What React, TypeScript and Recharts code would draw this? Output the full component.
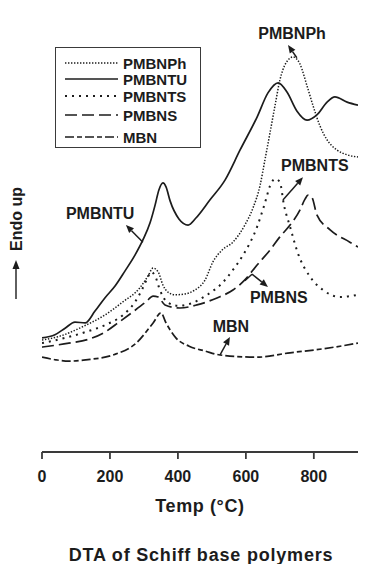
import React from 'react';
import {
  LineChart,
  Line,
  XAxis,
  YAxis,
  Legend,
  ReferenceLine,
  ReferenceDot,
} from 'recharts';

const FONT = '"Liberation Sans", Arial, Helvetica, sans-serif';
const INK = '#1c1c1c';
const FRAME = '#3a3a3a';

// temperature (°C) / DTA signal (arbitrary units, endo up)
const phTemp = [0, 53, 124, 185, 238, 288, 312, 327, 342, 356, 371, 391, 421, 450, 480, 503, 530, 562, 597, 621, 642, 656, 671, 686, 700, 718, 739, 759, 780, 798, 818, 839, 868, 898, 930];
const phDta = [25.5, 26.4, 28.7, 31.2, 34.2, 37.4, 40.1, 41.9, 41.0, 38.0, 36.4, 35.8, 36.0, 36.9, 39.2, 43.3, 46.0, 47.8, 51.7, 55.6, 60.8, 66.5, 72.7, 79.0, 84.7, 88.6, 90.0, 88.4, 83.4, 78.8, 74.3, 71.1, 68.8, 67.7, 67.2];

const tuTemp = [0, 38, 68, 97, 127, 156, 185, 215, 244, 274, 297, 318, 333, 344, 356, 365, 377, 403, 430, 453, 494, 539, 583, 633, 665, 695, 721, 750, 780, 809, 839, 862, 898, 930];
const tuDta = [26.0, 26.7, 28.2, 29.6, 29.4, 32.1, 35.1, 37.8, 41.2, 44.9, 48.3, 52.2, 56.3, 59.7, 61.3, 60.4, 57.2, 53.1, 51.7, 53.3, 57.4, 62.0, 68.8, 76.3, 81.8, 84.1, 82.0, 77.7, 75.6, 76.8, 79.7, 80.9, 79.7, 79.0];

const tsTemp = [0, 68, 127, 185, 238, 274, 297, 312, 321, 333, 347, 368, 400, 441, 480, 533, 562, 592, 633, 656, 671, 686, 700, 712, 730, 753, 789, 827, 877, 930];
const tsDta = [24.8, 26.0, 27.3, 28.9, 31.2, 34.2, 37.4, 39.9, 41.0, 40.1, 36.9, 34.2, 33.3, 33.9, 35.5, 38.7, 41.5, 44.9, 51.3, 56.7, 60.6, 62.2, 61.5, 56.3, 51.3, 45.3, 39.9, 36.9, 35.3, 35.8];

const sTemp = [0, 79, 138, 185, 227, 274, 306, 327, 342, 362, 406, 456, 515, 562, 597, 633, 671, 700, 730, 759, 774, 783, 795, 809, 848, 906, 930];
const sDta = [23.9, 24.8, 25.7, 27.3, 29.6, 32.3, 34.2, 35.5, 35.3, 33.5, 32.8, 33.5, 35.1, 36.9, 39.2, 42.6, 46.0, 49.0, 51.7, 55.1, 57.6, 58.5, 57.9, 54.0, 50.6, 47.8, 46.7];

const mbnTemp = [0, 41, 79, 129, 209, 277, 327, 350, 365, 394, 433, 480, 524, 633, 730, 827, 930];
const mbnDta = [21.6, 21.0, 20.7, 21.0, 22.1, 24.8, 29.4, 31.7, 29.4, 26.0, 24.1, 23.0, 22.1, 21.6, 22.6, 23.5, 24.8];

const tempTicks = [0, 200, 400, 600, 800];

const zip = (t: number[], v: number[]) => t.map((x, i) => ({ temp: x, dta: v[i] }));

const SERIES = [
  { name: 'PMBNPh', data: zip(phTemp, phDta), dash: '1.4 1.6', width: 1.5 },
  { name: 'PMBNTU', data: zip(tuTemp, tuDta), dash: undefined, width: 1.7 },
  { name: 'PMBNTS', data: zip(tsTemp, tsDta), dash: '2 5', width: 2 },
  { name: 'PMBNS', data: zip(sTemp, sDta), dash: '12 5', width: 1.7 },
  { name: 'MBN', data: zip(mbnTemp, mbnDta), dash: '9 3 5 3', width: 1.7 },
];

// curve labels with their pointer arrows (data coordinates)
const NOTES = [
  { text: 'PMBNPh', at: [736, 95.4], from: [750, 89.8], to: [724, 92.7] },
  { text: 'PMBNTU', at: [171, 54.4], from: [297, 47.8], to: [247, 51.7] },
  { text: 'PMBNTS', at: [803, 65.2], from: [709, 57.4], to: [768, 62.6] },
  { text: 'PMBNS', at: [697, 35.3], from: [618, 40.5], to: [665, 37.6] },
  { text: 'MBN', at: [556, 28.5], from: [524, 22.1], to: [553, 26.2] },
];

const Arrow = (p: any) => {
  const { x1, y1, x2, y2 } = p;
  const a = Math.atan2(y2 - y1, x2 - x1);
  const len = 8;
  const half = 3.4;
  const bx = x2 - len * Math.cos(a);
  const by = y2 - len * Math.sin(a);
  const nx = -Math.sin(a) * half;
  const ny = Math.cos(a) * half;
  return (
    <g>
      <line x1={x1} y1={y1} x2={bx} y2={by} stroke={INK} strokeWidth={1.5} />
      <polygon
        points={`${x2},${y2} ${bx + nx},${by + ny} ${bx - nx},${by - ny}`}
        fill={INK}
      />
    </g>
  );
};

const NoteText = (text: string) => (p: any) => (
  <text
    x={p.cx}
    y={p.cy}
    textAnchor="middle"
    dominantBaseline="central"
    fontFamily={FONT}
    fontWeight="bold"
    fontSize={16}
    fill={INK}
  >
    {text}
  </text>
);

const TempLabel = ({ viewBox }: any) => (
  <text
    x={viewBox.x + viewBox.width / 2}
    y={viewBox.y + 54}
    textAnchor="middle"
    dominantBaseline="central"
    fontFamily={FONT}
    fontWeight="bold"
    fontSize={18}
    letterSpacing={0.6}
    fill={INK}
  >
    Temp (°C)
  </text>
);

// y axis title with its upward arrow, left of the frame
const EndoUp = () => (
  <svg
    width={36}
    height={564}
    style={{ position: 'absolute', left: 0, top: 0, pointerEvents: 'none' }}
  >
    <text
      x={16}
      y={219}
      transform="rotate(-90 16 219)"
      textAnchor="middle"
      dominantBaseline="central"
      fontFamily={FONT}
      fontWeight="bold"
      fontSize={16}
      fill={INK}
    >
      Endo up
    </text>
    <line x1={16} y1={299} x2={16} y2={268} stroke={INK} strokeWidth={1.4} />
    <polygon points="16,260 12.5,269 19.5,269" fill={INK} />
  </svg>
);

// offsets of the legend rows inside the box
const ROW_Y = [15, 31, 48, 67, 89];

const LegendBox = () => (
  <div
    style={{
      width: 146,
      height: 101,
      boxSizing: 'border-box',
      border: `1.5px solid ${FRAME}`,
      background: '#fff',
    }}
  >
    <svg width={143} height={98} style={{ display: 'block' }}>
      {SERIES.map((s, i) => (
        <g key={s.name}>
          <line
            x1={9}
            x2={62}
            y1={ROW_Y[i]}
            y2={ROW_Y[i]}
            stroke={INK}
            strokeWidth={s.width}
            strokeDasharray={s.dash}
          />
          <text
            x={67}
            y={ROW_Y[i]}
            dominantBaseline="central"
            fontFamily={FONT}
            fontWeight="bold"
            fontSize={15}
            fill={INK}
          >
            {s.name}
          </text>
        </g>
      ))}
    </svg>
  </div>
);

export default function App() {
  return (
    <div style={{ position: 'absolute', left: 0, top: 0, width: 366, height: 564, background: '#fff' }}>
      <LineChart
        width={366}
        height={564}
        margin={{ top: 13, right: 8, bottom: 52, left: 42 }}
      >
        <XAxis
          dataKey="temp"
          type="number"
          domain={[0, 930]}
          ticks={tempTicks}
          allowDataOverflow
          height={60}
          stroke={FRAME}
          strokeWidth={1.8}
          tickSize={7}
          tickMargin={12}
          tick={{ fill: INK, fontSize: 16, fontWeight: 'bold', fontFamily: FONT }}
          label={<TempLabel />}
        />
        <XAxis
          xAxisId="top"
          orientation="top"
          type="number"
          domain={[0, 930]}
          height={0}
          tick={false}
          tickLine={false}
          stroke={FRAME}
          strokeWidth={1.8}
        />
        <YAxis
          type="number"
          domain={[0, 100]}
          width={0}
          tick={false}
          tickLine={false}
          stroke={FRAME}
          strokeWidth={1.8}
        />
        <YAxis
          yAxisId="right"
          orientation="right"
          type="number"
          domain={[0, 100]}
          width={0}
          tick={false}
          tickLine={false}
          stroke={FRAME}
          strokeWidth={1.8}
        />
        {SERIES.map((s) => (
          <Line
            key={s.name}
            name={s.name}
            data={s.data}
            dataKey="dta"
            type="monotone"
            stroke={INK}
            strokeWidth={s.width}
            strokeDasharray={s.dash}
            dot={false}
            activeDot={false}
            isAnimationActive={false}
          />
        ))}
        {NOTES.map((n) => (
          <ReferenceLine
            key={`a-${n.text}`}
            segment={[
              { x: n.from[0], y: n.from[1] },
              { x: n.to[0], y: n.to[1] },
            ]}
            shape={Arrow}
          />
        ))}
        <ReferenceLine
          segment={[
            { x: 597, y: 39.0 },
            { x: 618, y: 40.5 },
          ]}
          stroke={INK}
          strokeWidth={1.5}
        />
        {NOTES.map((n) => (
          <ReferenceDot
            key={`t-${n.text}`}
            x={n.at[0]}
            y={n.at[1]}
            r={0}
            shape={NoteText(n.text)}
          />
        ))}
        <Legend
          layout="vertical"
          align="center"
          verticalAlign="middle"
          wrapperStyle={{ left: 55, top: 47, width: 146, height: 101 }}
          content={() => <LegendBox />}
        />
      </LineChart>
      <EndoUp />
      <div
        style={{
          position: 'absolute',
          left: 201,
          top: 545,
          transform: 'translateX(-50%)',
          whiteSpace: 'nowrap',
          fontFamily: FONT,
          fontWeight: 'bold',
          fontSize: 18,
          lineHeight: '20px',
          letterSpacing: 0.8,
          color: INK,
        }}
      >
        DTA of Schiff base polymers
      </div>
    </div>
  );
}
